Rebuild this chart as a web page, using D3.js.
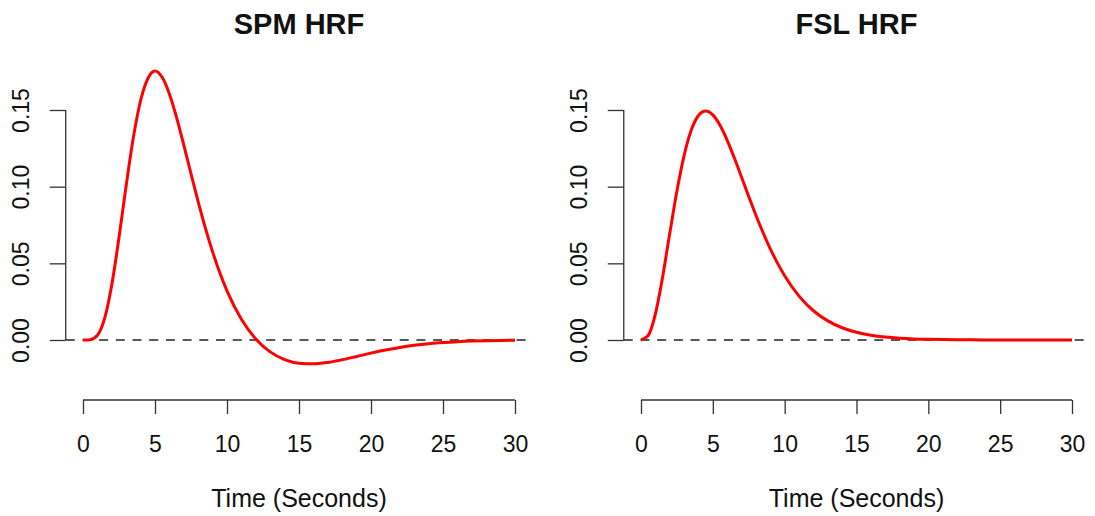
<!DOCTYPE html>
<meta charset="utf-8">
<style>
body { margin: 0; background: #fff; }
text { font-family: "Liberation Sans", Arial, Helvetica, sans-serif; fill: #111; }
.axis line, .axis path { stroke: #333; stroke-width: 1.3px; fill: none; }
.zero { stroke: #222; stroke-width: 1.4px; stroke-dasharray: 9,7.7; fill: none; }
.hrf { fill: none; stroke: #ff0000; stroke-width: 3px; stroke-linejoin: round; }
</style>
<body>
<svg id="chart" width="1095" height="516"></svg>
<script src="https://d3js.org/d3.v7.min.js"></script>
<script>

// time in seconds (half-second steps to 10 s, then 1 s steps)
const times = [0, 0.5, 1, 1.5, 2, 2.5, 3, 3.5, 4, 4.5, 5, 5.5, 6, 6.5, 7, 7.5, 8, 8.5, 9, 9.5, 10,
  11, 12, 13, 14, 15, 16, 17, 18, 19, 20, 21, 22, 23, 24, 25, 26, 27, 28, 29, 30]

const spmValues = [0, 0.00016, 0.00307, 0.01412, 0.03609, 0.06680, 0.10082, 0.13216, 0.15620, 0.17051,
  0.17545, 0.17133, 0.16047, 0.14507, 0.12717, 0.10843, 0.09010, 0.07297, 0.05749, 0.04385, 0.03205,
  0.01352, 0.00068, -0.00775, -0.01276, -0.01514, -0.01555, -0.01461, -0.01286, -0.01073, -0.00855,
  -0.00656, -0.00485, -0.00349, -0.00243, -0.00165, -0.00109, -0.00071, -0.00045, -0.00028, -0.00017]

const fslValues = [0, 0.00295, 0.01690, 0.04088, 0.06943, 0.09716, 0.12030, 0.13688, 0.14640, 0.14936,
  0.14681, 0.14001, 0.13025, 0.11866, 0.10619, 0.09358, 0.08138, 0.06994, 0.05949, 0.05013, 0.04190,
  0.02863, 0.01908, 0.01246, 0.00799, 0.00504, 0.00314, 0.00194, 0.00118, 0.00071, 0.00043,
  0.00025, 0.00015, 0.00009, 0.00005, 0.00003, 0.00002, 0.00001, 0.00001, 0, 0]

const xTicks = [0, 5, 10, 15, 20, 25, 30]
const yTicks = [0, 0.05, 0.10, 0.15]
const titles = ["SPM HRF", "FSL HRF"]
const xLabel = "Time (Seconds)"

const svg = d3.select("#chart")

// one panel per model, laid out like R's par(mfrow = c(1, 2))
const panels = [
  {title: titles[0], values: spmValues, x0: 83, x1: 515},
  {title: titles[1], values: fslValues, x0: 641, x1: 1072}
]

const yScale = d3.scaleLinear().domain([0, 0.15]).range([340, 110])
const axisY = 400

panels.forEach(p => {
  const x = d3.scaleLinear().domain([0, 30]).range([p.x0, p.x1])
  const g = svg.append("g")
  const left = x(-1.2), right = x(31.2)

  // dashed zero line
  g.append("line").attr("class", "zero")
    .attr("x1", left).attr("x2", right)
    .attr("y1", yScale(0)).attr("y2", yScale(0))

  // curve
  const line = d3.line()
    .x(d => x(d[0]))
    .y(d => yScale(d[1]))
    .curve(d3.curveMonotoneX)
  g.append("path").attr("class", "hrf")
    .attr("d", line(times.map((t, i) => [t, p.values[i]])))

  // x axis
  const xa = g.append("g").attr("class", "axis")
    .attr("transform", `translate(0,${axisY})`)
    .call(d3.axisBottom(x).tickValues(xTicks).tickSize(14).tickSizeOuter(0).tickFormat(d3.format("d")))
  xa.select(".domain").attr("d", `M${x(0)},0H${x(30)}`)
  xa.selectAll("text").attr("font-size", "23px").attr("y", 52).attr("dy", null)
    .style("font-family", "Liberation Sans, Arial, sans-serif").attr("fill", "#222")

  // y axis
  const ya = g.append("g").attr("class", "axis")
    .attr("transform", `translate(${left},0)`)
    .call(d3.axisLeft(yScale).tickValues(yTicks).tickSize(16).tickSizeOuter(0).tickFormat(d3.format(".2f")))
  ya.select(".domain").attr("d", `M0,${yScale(0)}V${yScale(0.15)}`)
  ya.selectAll("text")
    .attr("x", null).attr("dy", null).attr("text-anchor", "middle")
    .attr("transform", "translate(-37,0) rotate(-90)")
    .attr("font-size", "23px")
    .style("font-family", "Liberation Sans, Arial, sans-serif").attr("fill", "#222")

  // title
  g.append("text")
    .attr("x", (p.x0 + p.x1) / 2).attr("y", 34)
    .attr("text-anchor", "middle")
    .attr("font-size", "29px").attr("font-weight", "bold")
    .attr("fill", "#000")
    .text(p.title)

  // axis label
  g.append("text")
    .attr("x", (p.x0 + p.x1) / 2).attr("y", 507)
    .attr("text-anchor", "middle")
    .attr("font-size", "25px")
    .attr("fill", "#222")
    .text(xLabel)
})

</script>
